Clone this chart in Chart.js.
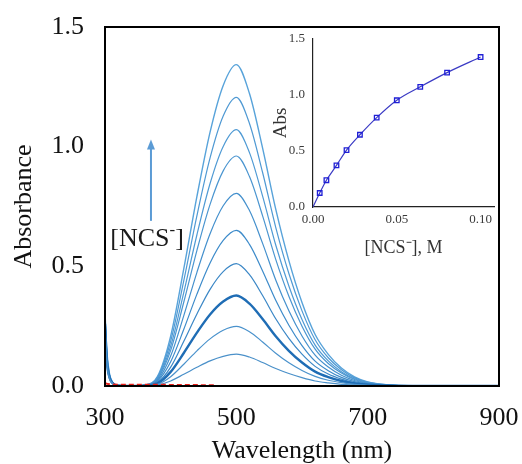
<!DOCTYPE html>
<html><head><meta charset="utf-8">
<script src="https://cdn.jsdelivr.net/npm/chart.js@4/dist/chart.umd.min.js"></script>
<style>
html,body{margin:0;padding:0;background:#fff;}
#wrap{position:relative;width:522px;height:464px;overflow:hidden;}
#main{position:absolute;left:0;top:0;}
#inset{position:absolute;left:262px;top:30px;}
</style></head><body>
<div id="wrap">
<canvas id="main" width="522" height="464"></canvas>
<canvas id="inset" width="240" height="232"></canvas>
</div>
<script>
// ---------- DATA ----------
const wavelengths = [300,303,307,312,320,340,360,380,400,420,440,460,480,500,520,540,560,580,600,620,640,660,680,700,730,770,900];
const spec01 = [0.24,0.09,0.03,0.010,0.002,0.0,0.000,0.004,0.021,0.049,0.078,0.105,0.124,0.133,0.121,0.098,0.073,0.052,0.035,0.021,0.013,0.007,0.004,0.002,0.001,0.000,0];
const spec02 = [0.25,0.10,0.03,0.010,0.002,0.0,0.001,0.007,0.039,0.091,0.147,0.197,0.233,0.249,0.227,0.184,0.137,0.097,0.065,0.040,0.024,0.014,0.007,0.003,0.001,0.000,0];
const spec03 = [0.26,0.10,0.035,0.011,0.002,0.0,0.001,0.011,0.059,0.138,0.223,0.299,0.353,0.378,0.344,0.280,0.208,0.147,0.098,0.060,0.037,0.021,0.011,0.005,0.002,0.000,0];
const spec04 = [0.27,0.11,0.035,0.011,0.002,0.0,0.002,0.015,0.079,0.187,0.301,0.404,0.478,0.511,0.465,0.378,0.281,0.199,0.133,0.082,0.050,0.029,0.014,0.007,0.002,0.001,0];
const spec05 = [0.28,0.11,0.04,0.012,0.002,0.0,0.002,0.020,0.101,0.237,0.384,0.514,0.608,0.650,0.592,0.481,0.358,0.254,0.169,0.104,0.064,0.036,0.018,0.008,0.003,0.001,0];
const spec06 = [0.28,0.12,0.04,0.012,0.002,0.0,0.002,0.024,0.125,0.294,0.475,0.636,0.753,0.805,0.733,0.596,0.443,0.314,0.209,0.129,0.079,0.045,0.023,0.010,0.003,0.001,0];
const spec07 = [0.29,0.12,0.04,0.012,0.002,0.0,0.003,0.029,0.149,0.351,0.567,0.759,0.899,0.961,0.875,0.711,0.529,0.375,0.250,0.154,0.094,0.054,0.027,0.012,0.004,0.001,0];
const spec08 = [0.29,0.13,0.045,0.013,0.002,0.0,0.003,0.032,0.166,0.391,0.632,0.846,1.001,1.071,0.975,0.793,0.589,0.418,0.278,0.171,0.105,0.060,0.030,0.014,0.004,0.001,0];
const spec09 = [0.30,0.13,0.045,0.013,0.002,0.0,0.004,0.036,0.187,0.440,0.712,0.953,1.128,1.206,1.097,0.892,0.663,0.470,0.314,0.193,0.118,0.068,0.034,0.016,0.005,0.001,0];
const spec10 = [0.31,0.14,0.05,0.014,0.002,0.0,0.004,0.040,0.208,0.490,0.792,1.061,1.256,1.343,1.222,0.994,0.739,0.524,0.349,0.215,0.132,0.075,0.038,0.017,0.005,0.001,0];
const blankWl  = [300,305,312,330,380,430,470];
const blankAbs = [0.012,0.008,0.006,0.005,0.005,0.004,0.003];
const baseWl  = [470,560,660];
const baseAbs = [0.002,0.002,0.002];

const mainXTicks = [300,500,700,900];
const mainYTicks = [0.0,0.5,1.0,1.5];

const ncsConc   = [0,0.004,0.008,0.014,0.020,0.028,0.038,0.050,0.064,0.080,0.100];
const absAt500  = [0,0.125,0.239,0.371,0.508,0.645,0.798,0.953,1.073,1.200,1.339];
const insetXTicks = [0.00,0.05,0.10];
const insetYTicks = [0.0,0.5,1.0,1.5];

// ---------- MAIN CHART ----------
const SERIF = '"Liberation Serif","Times New Roman",serif';
const spectra = [spec01,spec02,spec03,spec04,spec05,spec06,spec07,spec08,spec09,spec10];
const specColors = ['#4a90c9','#4a92cc','#1f6db5','#3b87c6','#3d8bca','#4490cd','#4a95d0','#4f9ad4','#4f99d3','#58a3da'];
const specWidths = [1.2,1.2,2.4,1.2,1.2,1.2,1.2,1.2,1.2,1.4];

const datasets = spectra.map((s,i)=>({
  data: wavelengths.map((w,j)=>({x:w,y:s[j]})),
  borderColor: specColors[i], borderWidth: specWidths[i],
  pointRadius:0, fill:false, cubicInterpolationMode:'monotone', order: 10
}));
datasets.push({data: blankWl.map((w,j)=>({x:w,y:blankAbs[j]})), borderColor:'#e8211b', borderWidth:2, borderDash:[5,3], pointRadius:0, order:1});
datasets.push({data: baseWl.map((w,j)=>({x:w,y:baseAbs[j]})), borderColor:'#7a2a2a', borderWidth:1, borderDash:[2,2], pointRadius:0, order:2});

const arrowX = 370, arrowFrom = 0.69, arrowTo = 1.03;
const labelX = 364, labelY = 0.613;

function zeroPad(s){ s.paddingTop = 0; s.paddingBottom = 0; s.paddingLeft = 0; s.paddingRight = 0; }

const mainDecor = {
  id:'mainDecor',
  afterDatasetsDraw(chart){
    const {ctx, chartArea:a, scales:{x,y}} = chart;
    ctx.save();
    ctx.strokeStyle='#000'; ctx.lineWidth=2;
    ctx.strokeRect(a.left,a.top,a.right-a.left,a.bottom-a.top);
    const ax = x.getPixelForValue(arrowX), y0 = y.getPixelForValue(arrowFrom), y1 = y.getPixelForValue(arrowTo);
    ctx.strokeStyle='#5b9bd5'; ctx.lineWidth=2;
    ctx.beginPath(); ctx.moveTo(ax,y0); ctx.lineTo(ax,y1+6); ctx.stroke();
    ctx.fillStyle='#5b9bd5';
    ctx.beginPath(); ctx.moveTo(ax,y1); ctx.lineTo(ax-4,y1+10); ctx.lineTo(ax+4,y1+10); ctx.closePath(); ctx.fill();
    // [NCS-] label
    const big = '26px '+SERIF, small = '17px '+SERIF;
    ctx.fillStyle='#1a1a1a'; ctx.textBaseline='middle'; ctx.textAlign='left';
    ctx.font=big; const w1 = ctx.measureText('[NCS').width, w3 = ctx.measureText(']').width;
    ctx.font=small; const w2 = ctx.measureText('-').width;
    const cx = x.getPixelForValue(labelX), cy = y.getPixelForValue(labelY);
    let sx = cx - (w1+w2+w3)/2;
    ctx.font=big; ctx.fillText('[NCS', sx, cy);
    ctx.font=small; ctx.fillText('-', sx+w1, cy-9);
    ctx.font=big; ctx.fillText(']', sx+w1+w2, cy);
    ctx.restore();
  }
};

new Chart(document.getElementById('main'), {
  type:'line',
  data:{datasets},
  options:{
    responsive:false, animation:false, devicePixelRatio:1,
    layout:{padding:{top:27,right:23,left:0,bottom:0}},
    plugins:{legend:{display:false}, tooltip:{enabled:false}},
    scales:{
      x:{type:'linear', min:300, max:900,
        afterFit(s){ s.height = 78; zeroPad(s); },
        afterBuildTicks(s){ s.ticks = mainXTicks.map(v=>({value:v})); },
        grid:{display:false, drawTicks:false}, border:{display:false},
        ticks:{padding:17, color:'#111', font:{family:SERIF,size:26}, maxRotation:0, callback:v=>String(v)},
        title:{display:true, text:'Wavelength (nm)', color:'#111', padding:{top:0,bottom:0}, font:{family:SERIF,size:26,lineHeight:1}}
      },
      y:{type:'linear', min:0, max:1.5,
        afterFit(s){ s.width = 105; zeroPad(s); },
        afterBuildTicks(s){ s.ticks = mainYTicks.map(v=>({value:v})); },
        grid:{display:false, drawTicks:false}, border:{display:false},
        ticks:{padding:21, color:'#111', font:{family:SERIF,size:26}, callback:v=>v.toFixed(1)},
        title:{display:true, text:'Absorbance', color:'#111', padding:{top:11,bottom:0}, font:{family:SERIF,size:26,lineHeight:1}}
      }
    }
  },
  plugins:[mainDecor]
});

// ---------- INSET ----------
new Chart(document.getElementById('inset'), {
  type:'line',
  data:{datasets:[{
    data: ncsConc.map((c,i)=>({x:c,y:absAt500[i]})),
    borderColor:'#3a3ac4', borderWidth:1.2, cubicInterpolationMode:'monotone',
    pointStyle:'rect', pointRadius: ncsConc.map((c,i)=> i===0?0:3.2),
    pointBorderColor:'#1f1fd6', pointBackgroundColor:'rgba(255,255,255,0)', pointBorderWidth:1.3
  }]},
  options:{
    responsive:false, animation:false, devicePixelRatio:1,
    layout:{padding:{top:9,right:8,left:0,bottom:0}},
    plugins:{legend:{display:false}, tooltip:{enabled:false}},
    scales:{
      x:{type:'linear', min:0, max:0.108,
        afterFit(s){ s.height = 55; zeroPad(s); },
        afterBuildTicks(s){ s.ticks = [0,0.025,0.05,0.075,0.10].map(v=>({value:v})); },
        grid:{display:false, drawOnChartArea:false, drawTicks:true, tickLength:4, tickColor:'#444'},
        border:{display:true, color:'#222', width:1.2},
        ticks:{padding:1, color:'#3a3a3a', font:{family:SERIF,size:13}, maxRotation:0, autoSkip:false,
          callback:v=> insetXTicks.some(t=>Math.abs(t-v)<1e-9) ? v.toFixed(2) : ''},
        title:{display:true, text:'[NCS\u207B], M', color:'#333', padding:{top:0,bottom:5}, font:{family:SERIF,size:18,lineHeight:1}}
      },
      y:{type:'linear', min:0, max:1.5,
        afterFit(s){ s.width = 51; zeroPad(s); },
        afterBuildTicks(s){ s.ticks = insetYTicks.map(v=>({value:v})); },
        grid:{display:false, drawOnChartArea:false, drawTicks:true, tickLength:4, tickColor:'#444'},
        border:{display:true, color:'#222', width:1.2},
        ticks:{padding:4, color:'#3a3a3a', font:{family:SERIF,size:13}, callback:v=>v.toFixed(1)},
        title:{display:true, text:'Abs', color:'#333', padding:{top:10,bottom:0}, font:{family:SERIF,size:19,lineHeight:1}}
      }
    }
  }
});
</script>
</body></html>
